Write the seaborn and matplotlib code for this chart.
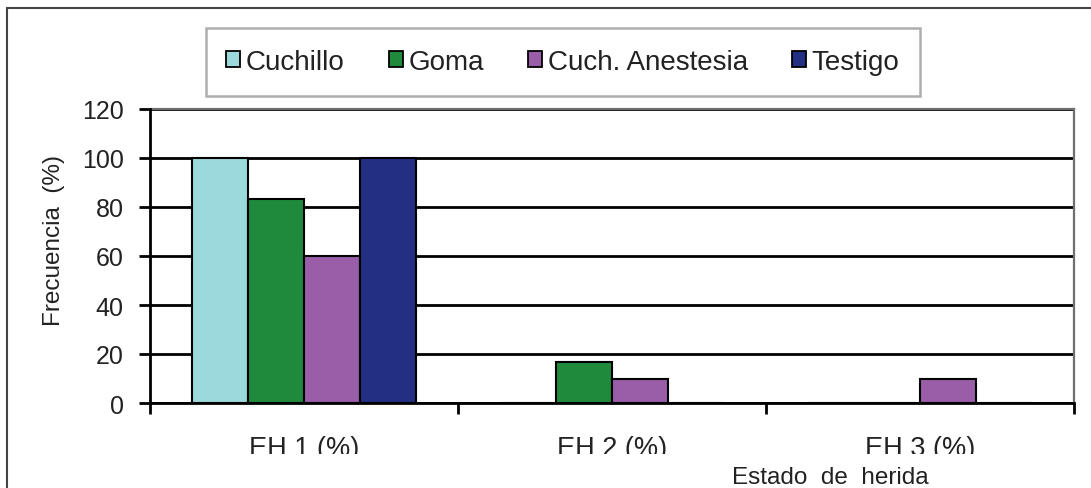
import matplotlib
matplotlib.use("Agg")
import matplotlib.pyplot as plt
import matplotlib.patches as mpatches
from matplotlib.lines import Line2D
import numpy as np
import pandas as pd
import seaborn as sns

# Wound-state categories and treatments
estados = ["EH 1 (%)", "EH 2 (%)", "EH 3 (%)"]
tratamientos = ["Cuchillo", "Goma", "Cuch. Anestesia", "Testigo"]

# Frequency (%) per treatment for each wound state
cuchillo = [100, 0, 0]
goma = [83.3, 16.7, 0]
cuch_anestesia = [60, 10, 10]
testigo = [100, 0, 0]

colores = ["#9cd9dc", "#1f8a3c", "#9a5ea8", "#222f82"]
yticks = [0, 20, 40, 60, 80, 100, 120]

df = pd.DataFrame({
    "estado": estados * 4,
    "tratamiento": np.repeat(tratamientos, 3),
    "frecuencia": cuchillo + goma + cuch_anestesia + testigo,
})

sns.set_theme(style="white")
plt.rcParams["font.family"] = ["Liberation Sans", "DejaVu Sans"]

fig = plt.figure(figsize=(10.91, 4.89), dpi=100)
ax = fig.add_axes([150 / 1091, 1 - 404 / 489, 924 / 1091, 294 / 489])

sns.barplot(data=df, x="estado", y="frecuencia", hue="tratamiento",
            order=estados, hue_order=tratamientos, palette=colores,
            saturation=1, edgecolor="black", linewidth=1.5, width=0.73,
            gap=0, errorbar=None, ax=ax, legend=False, zorder=3)

ax.set_ylim(0, 120)
ax.set_xlim(-0.5, 2.5)
ax.set_yticks(yticks)
ax.set_yticklabels([str(v) for v in yticks], fontsize=18, color="#222222")
ax.set_xticks(range(len(estados)))
ax.set_xticklabels(estados, fontsize=19.5, color="#222222")
ax.set_xticks([-0.5, 0.5, 1.5, 2.5], minor=True)
ax.tick_params(axis="x", which="major", length=0, pad=23)
ax.tick_params(axis="x", which="minor", length=8, width=2, color="black",
               direction="out", bottom=True)
ax.tick_params(axis="y", length=8, width=2, color="black", direction="out",
               left=True, pad=11)

ax.grid(axis="y", color="black", linewidth=2, zorder=1)
ax.grid(axis="x", visible=False)
ax.set_axisbelow(True)

for side in ("left", "bottom"):
    ax.spines[side].set_color("black")
    ax.spines[side].set_linewidth(2)
    ax.spines[side].set_zorder(5)
for side in ("top", "right"):
    ax.spines[side].set_color("#6e6e6e")
    ax.spines[side].set_linewidth(1.6)

ax.set_xlabel("")
ax.set_ylabel("")
fig.text(54 / 1091, 1 - 241 / 489, "Frecuencia  (%)", rotation=90,
         ha="center", va="center", fontsize=17.5, color="#222222")
fig.text(830 / 1091, 1 - 478 / 489, "Estado  de  herida", ha="center",
         va="center", fontsize=17.5, color="#222222")

# Legend across the top in a framed row
handles = [mpatches.Patch(facecolor=c, edgecolor="black", linewidth=1.3)
           for c in colores]
leg = fig.legend(handles, tratamientos, loc="center", ncol=4,
                 bbox_to_anchor=(563 / 1091, 1 - 63 / 489), fontsize=20,
                 frameon=True, fancybox=False, handlelength=0.5,
                 handleheight=0.5, handletextpad=0.2, columnspacing=1.6,
                 borderpad=0.75, borderaxespad=0)
leg.get_frame().set_edgecolor("#9a9a9a")
leg.get_frame().set_linewidth(1.8)
for t in leg.get_texts():
    t.set_color("#222222")

# Category labels are cut along their lower edge
fig.add_artist(mpatches.Rectangle((140 / 1091, 1 - 466 / 489), 940 / 1091,
                                  11 / 489, transform=fig.transFigure,
                                  facecolor="white", edgecolor="none",
                                  zorder=10))

# Outer frame lines (top and left)
fig.add_artist(Line2D([7 / 1091, 1], [1 - 9 / 489, 1 - 9 / 489],
                      transform=fig.transFigure, color="#444444", lw=1.5))
fig.add_artist(Line2D([7 / 1091, 7 / 1091], [0, 1 - 9 / 489],
                      transform=fig.transFigure, color="#444444", lw=1.5))

fig.savefig("out.png", dpi=100)
